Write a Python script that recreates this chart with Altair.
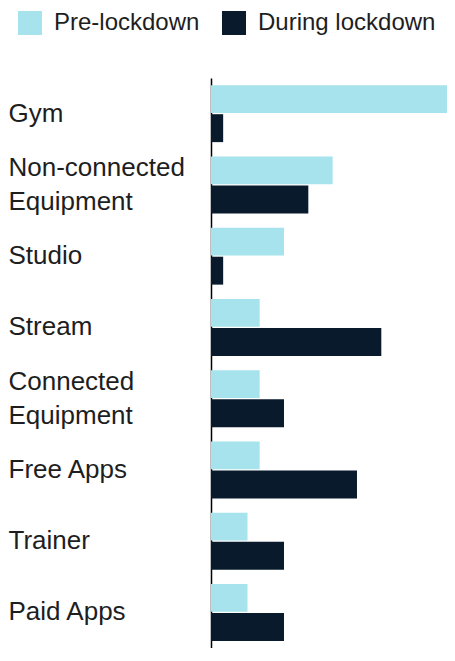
import altair as alt
import pandas as pd

categories = ["Gym", "Non-connected Equipment", "Studio", "Stream",
              "Connected Equipment", "Free Apps", "Trainer", "Paid Apps"]
series = ["Pre-lockdown", "During lockdown"]
pre_values = [20, 10, 6, 4, 4, 4, 3, 3]
during_values = [1, 8, 1, 14, 6, 12, 6, 6]
colors = ["#a6e3ec", "#081a2b"]

rows = []
for c, p, d in zip(categories, pre_values, during_values):
    rows.append({"category": c, "series": series[0], "value": p})
    rows.append({"category": c, "series": series[1], "value": d})
df = pd.DataFrame(rows)

FONT = "Liberation Sans, Arial, Helvetica, sans-serif"
two_line = "indexof(datum.value, 'Equipment') > 0"

chart = alt.Chart(df).mark_bar(clip=True).encode(
    y=alt.Y("category:N", sort=categories, title=None,
            scale=alt.Scale(paddingInner=0.2, paddingOuter=0.1),
            axis=alt.Axis(
                ticks=False, tickSize=0, labelAlign="left", labelPadding=203,
                labelFontSize=26, labelFont=FONT, labelColor="#1e1e1e",
                labelLimit=300, labelLineHeight=34, labelBaseline="middle",
                labelOffset={"condition": {"test": two_line, "value": -17}, "value": 0},
                labelExpr="indexof(datum.label, 'Equipment') > 0 ? split(datum.label, ' ') : datum.label",
                domainColor="#000000", domainWidth=1.5, grid=False)),
    yOffset=alt.YOffset("series:N", sort=series,
                        scale=alt.Scale(paddingInner=0.04)),
    x=alt.X("value:Q", title=None, axis=None,
            scale=alt.Scale(domain=[0, 19.4], nice=False, zero=True)),
    color=alt.Color("series:N", sort=series,
                    scale=alt.Scale(domain=series, range=colors),
                    legend=alt.Legend(
                        title=None, orient="none", legendX=-193, legendY=-67,
                        direction="horizontal", columns=2,
                        symbolType="square", symbolSize=576, symbolStrokeWidth=0,
                        labelFontSize=24, labelFont=FONT, labelColor="#1e1e1e",
                        labelOffset=12, columnPadding=22, padding=0,
                        labelLimit=300)),
).properties(
    width=236, height=570,
    autosize=alt.AutoSizeParams(type="none"),
    padding={"left": 203, "top": 70, "right": 0, "bottom": 0},
).configure_view(stroke=None)

chart.save("out.html", embed_options={"renderer": "svg", "actions": False})
